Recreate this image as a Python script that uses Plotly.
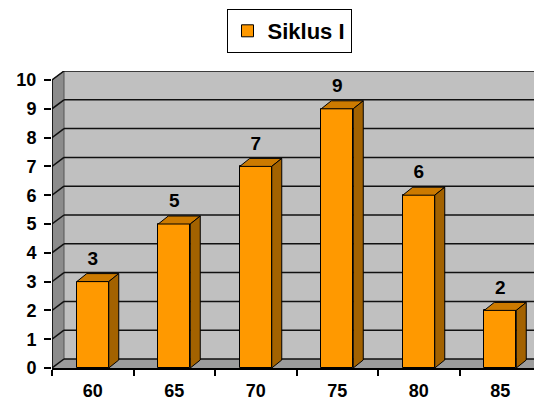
import plotly.graph_objects as go

# ---- data ----
categories = ["60", "65", "70", "75", "80", "85"]
values = [3, 5, 7, 9, 6, 2]
series_name = "Siklus I"
y_ticks = list(range(0, 11))

# ---- geometry (style) ----
# page body has an 8px default margin, so the figure is sized to fit the window
OFF = 8
W, H = 542 - OFF, 402 - OFF
ML, MR, MT, MB = 52 - OFF, 0, 71 - OFF, 402 - 368
CAT_PX = 81.5
UNIT_PX = 28.8
DX = 12 / CAT_PX      # wall depth (x units)
DY = 9 / UNIT_PX      # wall depth (y units)
BDX = 10 / CAT_PX     # bar depth
BDY = 8 / UNIT_PX
BAR_W = 32 / CAT_PX
XMAX = (W - ML - MR) / CAT_PX
YMAX = 10 + DY
PLOT_W = W - ML - MR
PLOT_H = H - MT - MB

FONT = "Liberation Sans, Arial, sans-serif"
FRONT = "#FF9900"
TOP = "#CC7A00"
SIDE = "#A36200"

n = len(categories)
centers = [i + 0.5 for i in range(n)]

fig = go.Figure()

shapes = []
# back wall
shapes.append(dict(type="path", layer="below", xref="x", yref="y",
                   path=f"M{DX},{DY} L{XMAX+1},{DY} L{XMAX+1},{YMAX} L{DX},{YMAX} Z",
                   fillcolor="#C0C0C0", line=dict(width=0)))
# left wall
shapes.append(dict(type="path", layer="below", xref="x", yref="y",
                   path=f"M0,0 L{DX},{DY} L{DX},{YMAX} L0,10 Z",
                   fillcolor="#8C8C8C", line=dict(color="#555555", width=1)))
# floor
shapes.append(dict(type="path", layer="below", xref="x", yref="y",
                   path=f"M0,0 L{XMAX+1},0 L{XMAX+1+DX},{DY} L{DX},{DY} Z",
                   fillcolor="#9C9C9C", line=dict(width=0)))
# gridlines on back wall and left wall
for v in y_ticks:
    shapes.append(dict(type="line", layer="below", xref="x", yref="y",
                       x0=DX, x1=XMAX + 1, y0=v + DY, y1=v + DY,
                       line=dict(color="#111111", width=1.5)))
    shapes.append(dict(type="line", layer="below", xref="x", yref="y",
                       x0=0, x1=DX, y0=v, y1=v + DY,
                       line=dict(color="#111111", width=1.5)))
# front vertical edge of left wall (axis line)
shapes.append(dict(type="line", layer="below", xref="x", yref="y",
                   x0=0, x1=0, y0=0, y1=10, line=dict(color="black", width=1.5)))

# front faces
fig.add_trace(go.Bar(
    x=centers, y=values, width=BAR_W, name=series_name,
    marker=dict(color=FRONT, line=dict(color="black", width=1)),
    hoverinfo="skip", showlegend=True))

# tops and sides
tx, ty, sx, sy = [], [], [], []
for c, v in zip(centers, values):
    l, r = c - BAR_W / 2, c + BAR_W / 2
    tx += [l, l + BDX, r + BDX, r, l, None]
    ty += [v, v + BDY, v + BDY, v, v, None]
    sx += [r, r + BDX, r + BDX, r, r, None]
    sy += [0, BDY, v + BDY, v, 0, None]
fig.add_trace(go.Scatter(x=tx, y=ty, mode="lines", fill="toself", fillcolor=TOP,
                         line=dict(color="black", width=1), hoverinfo="skip",
                         showlegend=False))
fig.add_trace(go.Scatter(x=sx, y=sy, mode="lines", fill="toself", fillcolor=SIDE,
                         line=dict(color="black", width=1), hoverinfo="skip",
                         showlegend=False))

# data labels
fig.add_trace(go.Scatter(x=centers, y=[v + 0.75 for v in values], mode="text",
                         text=[str(v) for v in values], textposition="middle center",
                         textfont=dict(family=FONT, size=19, color="black", weight="bold"),
                         hoverinfo="skip", showlegend=False, cliponaxis=False))

leg_cx = 289 - OFF
leg_top = 1
fig.update_layout(
    width=W, height=H,
    margin=dict(l=ML, r=MR, t=MT, b=MB, pad=0, autoexpand=False),
    paper_bgcolor="white", plot_bgcolor="white",
    shapes=shapes, bargap=0,
    showlegend=True,
    legend=dict(x=(leg_cx - ML) / PLOT_W, xanchor="center",
                y=1 + (MT - leg_top) / PLOT_H, yanchor="top",
                bordercolor="black", borderwidth=1, bgcolor="white",
                font=dict(family=FONT, size=22, color="black", weight="bold"),
                itemwidth=30, tracegroupgap=0),
    xaxis=dict(range=[0, XMAX], tickvals=centers, ticktext=categories, ticks="",
               automargin=False,
               showgrid=False, zeroline=False, showline=True, linecolor="black", linewidth=1.5,
               tickfont=dict(family=FONT, size=18, color="black", weight="bold"),
               ticklabelstandoff=6,
               minor=dict(tickmode="linear", tick0=0, dtick=1, ticks="outside",
                          ticklen=6, tickcolor="black", tickwidth=1.5, showgrid=False)),
    yaxis=dict(range=[0, YMAX], tickvals=y_ticks, ticks="outside", ticklen=7,
               automargin=False,
               tickcolor="black", tickwidth=1.5, showgrid=False, zeroline=False,
               showline=False,
               tickfont=dict(family=FONT, size=18, color="black", weight="bold"),
               ticklabelstandoff=4),
)

fig.write_html("out.html")
